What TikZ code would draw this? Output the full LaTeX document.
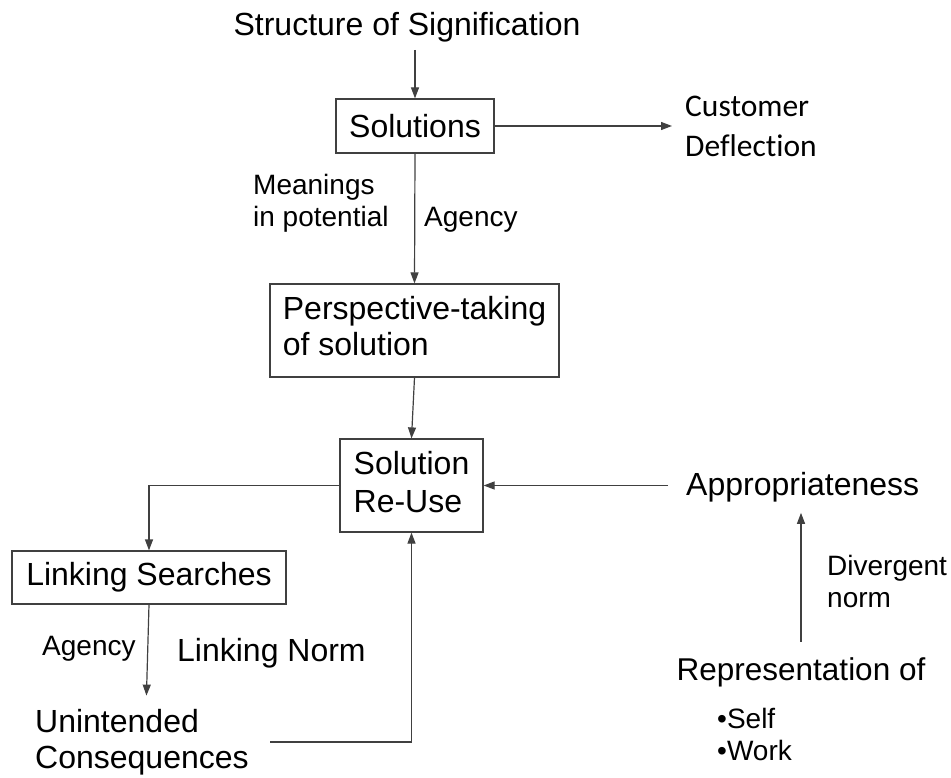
\documentclass[tikz,border=0pt]{standalone}
\usepackage{fontspec}
\setmainfont{Liberation Sans}
\newfontfamily\calfont[Ligatures=NoCommon]{Carlito}
\usetikzlibrary{arrows.meta}

\begin{document}
\begin{tikzpicture}[x=1pt,y=-1pt,
  big/.style={font=\fontsize{32}{37}\selectfont},
  small/.style={font=\fontsize{28}{32}\selectfont},
  lbl/.style={anchor=base west, inner sep=0pt},
  box/.style={draw=black!75, line width=1.2pt, inner sep=0pt},
  conn/.style={draw=black!75, line width=1.2pt},
  arr/.style={conn, -{Triangle[length=11pt,width=8pt]}}]
\useasboundingbox (0,0) rectangle (951,778);

% top of the chain
\node[big, anchor=base, inner sep=0pt] (title) at (407,36) {Structure of Signification};
\coordinate (titlefoot) at (415,50);
\node[box, big, minimum width=158pt, minimum height=54pt] (sol) at (415,126) {Solutions};
\draw[arr] (titlefoot) -- (sol.north);

\node[lbl, font=\calfont\fontsize{31.5}{40}\selectfont] (cust) at (685,117)
  {\begin{tabular}[t]{@{}l@{}}Customer\\Deflection\end{tabular}};
\draw[arr, shorten >=13pt] (sol.east) -- (sol.east -| cust.west);

\node[lbl, small] (mean) at (253,195)
  {\begin{tabular}[t]{@{}l@{}}Meanings\\in potential\end{tabular}};
\node[lbl, small] (agA) at (424,227) {Agency};

% middle boxes
\node[box, font=\fontsize{32}{36}\selectfont, minimum width=289pt, minimum height=93pt] (persp) at (414.5,330.5)
  {\begin{tabular}{@{}l@{}}Perspective-taking\\of solution\end{tabular}};
\draw[arr] (sol.south) -- (persp.north);

\node[box, font=\fontsize{32}{38}\selectfont, minimum width=143pt, minimum height=93pt] (reuse) at (411.5,485.5)
  {\begin{tabular}{@{}l@{}}Solution\\Re-Use\end{tabular}};
\draw[arr] (persp.south) -- (reuse.north);

% left branch
\node[box, big, minimum width=274pt, minimum height=53pt] (links) at (149,577.5) {Linking Searches};
\draw[arr] (reuse.west) -| (links.north);

\node[lbl, small] (agB) at (42,655) {Agency};
\node[lbl, big] (lnorm) at (177,661) {Linking Norm};

\node[lbl, font=\fontsize{32}{36}\selectfont] (unint) at (35,732)
  {\begin{tabular}[t]{@{}l@{}}Unintended\\Consequences\end{tabular}};
\draw[arr] (links.south) -- ([xshift=4.5pt,yshift=11pt]unint.north);

\coordinate (ucout) at (270,742);
\draw[arr] (ucout) -| (reuse.south);

% right branch
\node[lbl, big] (approp) at (686,495) {Appropriateness};
\draw[arr, shorten <=18pt] (approp.west |- reuse.east) -- (reuse.east);

\node[anchor=base, inner sep=0pt, font=\fontsize{31.5}{36}\selectfont] (repr) at (801,680) {Representation of};
\draw[arr, shorten <=15pt, shorten >=11pt] (repr.north) -- (repr.north |- approp.south);

\node[lbl, small] (div) at (827,575)
  {\begin{tabular}[t]{@{}l@{}}Divergent\\norm\end{tabular}};
\node[lbl, small] (items) at (717,728)
  {\begin{tabular}[t]{@{}l@{}}•Self\\•Work\end{tabular}};
\end{tikzpicture}
\end{document}
